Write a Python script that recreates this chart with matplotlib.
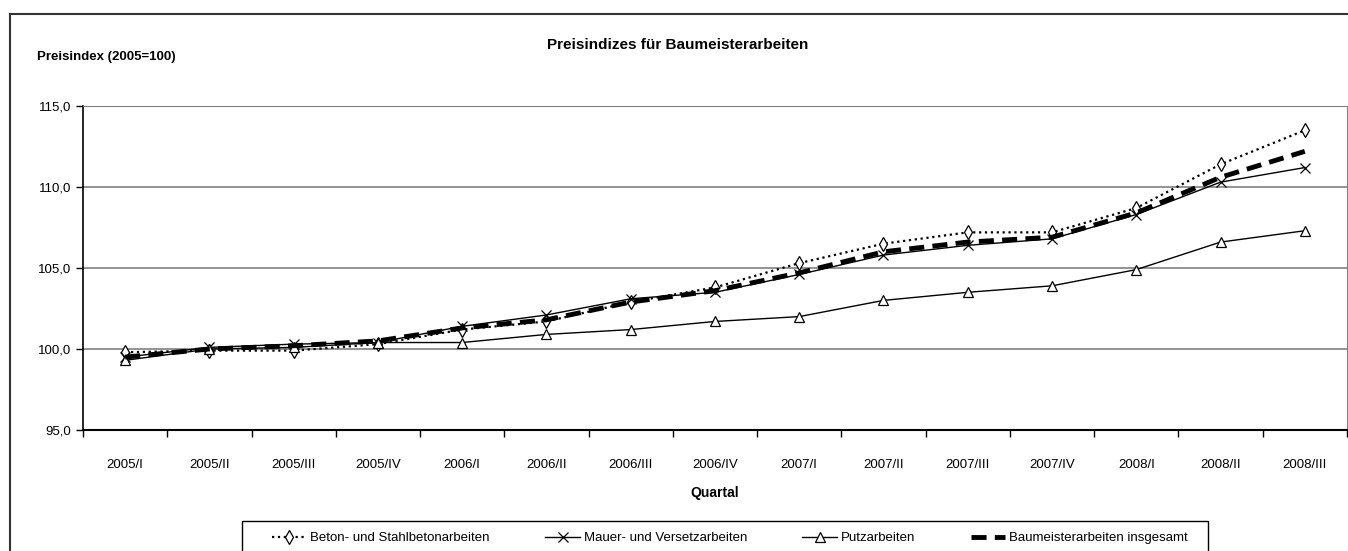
import matplotlib.pyplot as plt
from matplotlib.patches import Rectangle
from matplotlib.ticker import FuncFormatter, MultipleLocator

plt.rcParams['font.family'] = ['Liberation Sans', 'DejaVu Sans']

# Daten
quartale = ["2005/I", "2005/II", "2005/III", "2005/IV", "2006/I", "2006/II", "2006/III",
            "2006/IV", "2007/I", "2007/II", "2007/III", "2007/IV", "2008/I", "2008/II", "2008/III"]
beton = [99.8, 99.9, 99.9, 100.3, 101.2, 101.7, 102.9, 103.8, 105.3, 106.5, 107.2, 107.2, 108.7, 111.4, 113.5]
mauer = [99.5, 100.1, 100.3, 100.4, 101.4, 102.1, 103.1, 103.5, 104.6, 105.8, 106.4, 106.8, 108.3, 110.3, 111.2]
putz = [99.3, 100.0, 100.1, 100.4, 100.4, 100.9, 101.2, 101.7, 102.0, 103.0, 103.5, 103.9, 104.9, 106.6, 107.3]
gesamt = [99.5, 100.0, 100.2, 100.5, 101.3, 101.8, 102.9, 103.6, 104.7, 106.0, 106.6, 106.9, 108.4, 110.6, 112.2]

W, H = 1348, 551
fig = plt.figure(figsize=(W / 100, H / 100), dpi=100)
# Rahmen um das gesamte Diagramm
fig.patches.append(Rectangle((10 / W, -0.1), 1.2, 1 - 14 / H + 0.1, transform=fig.transFigure,
                             fill=False, edgecolor="#333333", linewidth=1.5))

ax = fig.add_axes([83 / W, 1 - 430 / H, 1 - 83 / W - 0.0008, (430 - 106) / H])
x = range(len(quartale))

ax.plot(x, beton, color="black", linestyle=":", linewidth=1.6, marker="d", markersize=7,
        markerfacecolor="white", markeredgewidth=0.9, label="Beton- und Stahlbetonarbeiten")
ax.plot(x, mauer, color="black", linestyle="-", linewidth=1.0, marker="x", markersize=7,
        markeredgewidth=0.9, label="Mauer- und Versetzarbeiten")
ax.plot(x, putz, color="black", linestyle="-", linewidth=1.0, marker="^", markersize=6.5,
        markerfacecolor="white", markeredgewidth=0.9, label="Putzarbeiten")
ax.plot(x, gesamt, color="black", linestyle=(0, (3.1, 1.7)), linewidth=3.5,
        label="Baumeisterarbeiten insgesamt")

ax.set_xlim(-0.5, len(quartale) - 0.5)
ax.set_ylim(95, 115)
ax.yaxis.set_major_locator(MultipleLocator(5))
ax.yaxis.set_major_formatter(FuncFormatter(lambda v, p: f"{v:.1f}".replace(".", ",")))
ax.grid(axis="y", color="#808080", linewidth=1.2)
ax.set_axisbelow(True)

ax.set_xticks([i - 0.5 for i in range(len(quartale) + 1)])
ax.set_xticklabels([])
ax.set_xticks(list(x), minor=True)
ax.set_xticklabels(quartale, minor=True, fontsize=9.5)
ax.tick_params(axis="x", which="major", direction="out", length=5, width=1)
ax.tick_params(axis="x", which="minor", length=0, pad=21)
ax.tick_params(axis="y", direction="out", length=5, width=1, labelsize=9.5)

for s in ["top", "right"]:
    ax.spines[s].set_color("#808080")
ax.spines["left"].set_linewidth(1.2)
ax.spines["bottom"].set_linewidth(1.5)

fig.text(678 / W, 1 - 45 / H, "Preisindizes für Baumeisterarbeiten", ha="center", va="center",
         fontsize=11, fontweight="bold")
fig.text(37 / W, 1 - 57 / H, "Preisindex (2005=100)", ha="left", va="center",
         fontsize=9.5, fontweight="bold")
fig.text(715 / W, 1 - 493 / H, "Quartal", ha="center", va="center",
         fontsize=10, fontweight="bold")

# Legende ohne eigenen Rahmen, Rahmen separat (breiter Innenabstand wie im Original)
fig.legend(loc="upper left", bbox_to_anchor=(261 / W, 1 - 521 / H), ncol=4,
           fontsize=9.5, frameon=False, handlelength=2.6, handletextpad=0.3,
           columnspacing=4.2, borderpad=0.35)
fig.patches.append(Rectangle((242 / W, -0.1), (1208 - 242) / W, 0.1 + 1 - 521 / H,
                             transform=fig.transFigure, fill=False, edgecolor="black", linewidth=1.0))

fig.savefig("out.png", dpi=100)
